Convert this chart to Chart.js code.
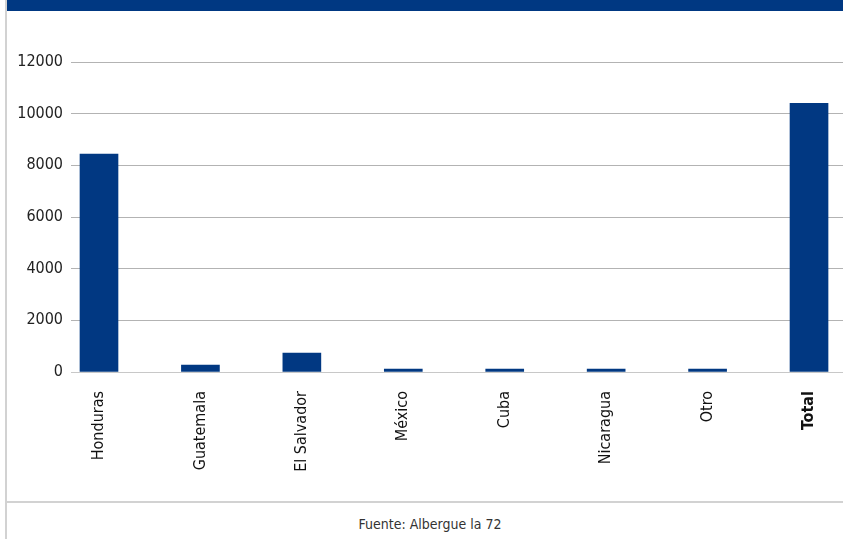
<!DOCTYPE html>
<html>
<head>
<meta charset="utf-8">
<script src="https://cdn.jsdelivr.net/npm/chart.js@4/dist/chart.umd.min.js"></script>
<style>
  html, body { margin: 0; padding: 0; background: #fff; width: 843px; height: 539px; overflow: hidden; }
  #wrap { position: absolute; left: 0; top: 0; width: 843px; height: 501px; }
  #leftBorder { position: absolute; left: 5px; top: 0; width: 2px; height: 539px; background: #d2d2d2; }
  #header { position: absolute; left: 7px; top: 0; right: 0; height: 11px; background: #003882; }
  #sep { position: absolute; left: 7px; right: 0; top: 501px; height: 2px; background: #d2d2d2; }
  #footer { position: absolute; left: 17px; right: 0; top: 516px; text-align: center;
            font-family: "DejaVu Sans Condensed", "Liberation Sans Narrow", sans-serif;
            font-size: 14px; color: #333; }
</style>
</head>
<body>
<div id="wrap"><canvas id="c"></canvas></div>
<div id="leftBorder"></div>
<div id="header"></div>
<div id="sep"></div>
<div id="footer">Fuente: Albergue la 72</div>
<script>
const categories = ["Honduras", "Guatemala", "El Salvador", "México", "Cuba", "Nicaragua", "Otro", "Total"];
const values = [8440, 270, 735, 115, 115, 115, 115, 10400];
const yTicks = [0, 2000, 4000, 6000, 8000, 10000, 12000];

const FONT = '"DejaVu Sans Condensed", "Liberation Sans Narrow", sans-serif';
const BAR = '#013882';

new Chart(document.getElementById('c'), {
  type: 'bar',
  data: {
    datasets: [{
      data: categories.map((c, i) => ({ x: i, y: values[i] })),
      backgroundColor: BAR,
      borderWidth: 0,
      barThickness: 38
    }]
  },
  options: {
    responsive: true,
    maintainAspectRatio: false,
    animation: false,
    layout: { padding: { top: 62, left: 0, right: 0, bottom: 0 } },
    plugins: { legend: { display: false }, tooltip: { enabled: false } },
    scales: {
      x: {
        type: 'linear',
        offset: false,
        min: -0.276,
        max: 7.335,
        grid: { display: false, drawTicks: false, offset: false },
        border: { display: true, color: '#c8c8c8', width: 1 },
        afterBuildTicks: (s) => { s.ticks = categories.map((c, i) => ({ value: i })); },
        afterFit: (s) => { s.height = 129; s.paddingLeft = 0; s.paddingRight = 0; },
        ticks: {
          autoSkip: false,
          minRotation: 90,
          maxRotation: 90,
          padding: 19,
          color: '#111',
          font: (ctx) => ({ family: FONT, size: 16, weight: ctx.index === categories.length - 1 ? 'bold' : 'normal' }),
          callback: (v) => categories[v]
        }
      },
      y: {
        min: 0,
        max: 12000,
        afterBuildTicks: (s) => { s.ticks = yTicks.map(v => ({ value: v })); },
        afterFit: (s) => { s.width = 71; },
        grid: { color: '#b3b3b3', lineWidth: 1, drawTicks: false },
        border: { display: false },
        ticks: {
          padding: 8,
          color: '#222',
          font: { family: FONT, size: 16 },
          callback: (v) => String(v)
        }
      }
    }
  }
});
</script>
</body>
</html>
